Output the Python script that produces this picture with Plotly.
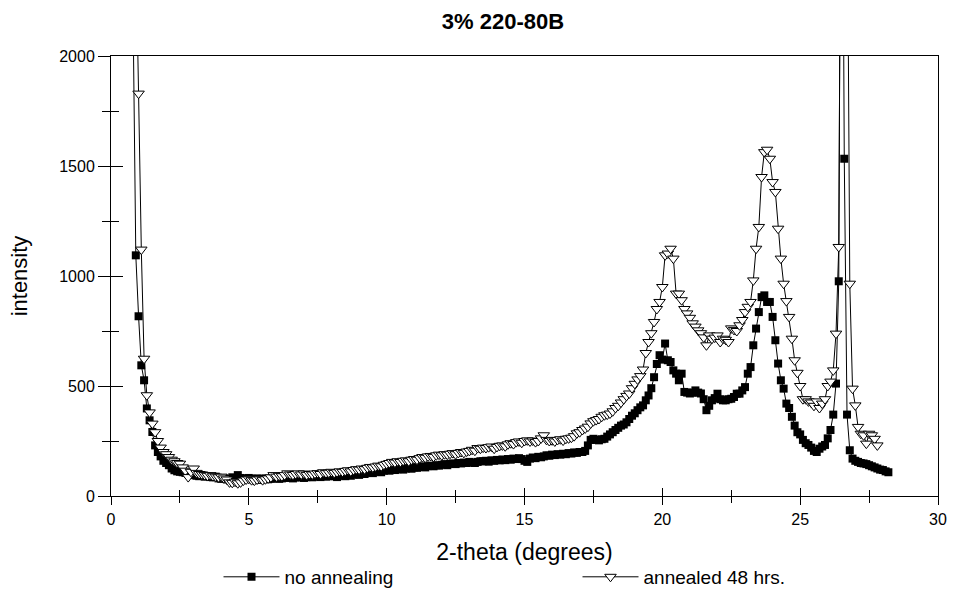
import plotly.graph_objects as go

title_text = "3% 220-80B"
x_title = "2-theta (degrees)"
y_title = "intensity"
series_names = ["no annealing", "annealed 48 hrs."]

x_start = 0.8
x_step = 0.1

# no annealing (filled squares), 2-theta from 0.8 to 28.2 in 0.1 steps
y_no = [
    2200, 1094,
    817, 594, 526, 398, 344, 291, 230, 200, 180, 160,
    150, 140, 125, 117, 112, 110, 108, 105, 100, 95,
    97, 92, 90, 92, 88, 90, 86, 85, 88, 80,
    78, 80, 76, 78, 85, 80, 95, 82, 76, 80,
    82, 78, 75, 80, 73, 78, 80, 76, 78, 80,
    82, 78, 80, 84, 82, 86, 80, 84, 88, 85,
    82, 86, 90, 85, 88, 90, 86, 92, 88, 90,
    94, 90, 86, 92, 95, 90, 96, 92, 98, 100,
    96, 102, 100, 105, 108, 104, 110, 112, 108, 115,
    118, 115, 120, 118, 122, 125, 120, 125, 128, 124,
    130, 128, 132, 135, 130, 136, 138, 135, 140, 138,
    142, 145, 140, 146, 148, 145, 150, 148, 152, 150,
    155, 152, 150, 155, 158, 158, 160, 156, 162, 160,
    164, 162, 166, 163, 168, 165, 170, 168, 172, 168,
    160, 155, 170, 175, 172, 178, 176, 180, 185, 183,
    188, 186, 190, 188, 192, 190, 195, 193, 198, 196,
    200, 200, 205, 230, 255, 260, 255, 253, 258, 260,
    270, 280, 290, 300, 310, 320, 325, 335, 350, 365,
    376, 390, 403, 412, 435, 457, 490, 540, 600, 640,
    620, 693, 617, 609, 571, 556, 526, 556, 473, 470,
    466, 470, 480, 470, 466, 440, 390, 410, 435, 445,
    465, 440, 435, 435, 440, 442, 450, 465, 465, 480,
    495, 556, 586, 685, 761, 836, 904, 912, 882, 882,
    814, 708, 602, 526, 488, 420, 400, 360, 320, 290,
    280, 255, 240, 232, 220, 205, 200, 215, 225, 232,
    262, 300, 370, 511, 976, 4000, 1533, 370, 208, 170,
    160, 155, 150, 148, 145, 140, 135, 130, 125, 120,
    118, 112, 108,
]

# annealed 48 hrs. (open down-triangles), 2-theta from 0.8 to 27.8 in 0.1 steps
y_ann = [
    3500, 2500,
    1829, 1120, 624, 458, 380, 329, 290, 250, 220, 200,
    190, 177, 165, 158, 150, 147, 130, 115, 86, 110,
    125, 105, 100, 98, 95, 92, 95, 90, 88, 85,
    88, 80, 75, 62, 60, 65, 58, 62, 70, 75,
    78, 72, 70, 75, 78, 72, 76, 80, 85, 95,
    88, 92, 90, 95, 103, 98, 96, 100, 103, 98,
    102, 96, 100, 98, 102, 104, 100, 108, 104, 106,
    110, 105, 108, 112, 110, 114, 117, 112, 118, 122,
    120, 125, 122, 128, 132, 130, 134, 138, 135, 142,
    146, 150, 155, 152, 158, 155, 160, 162, 158, 165,
    168, 165, 172, 177, 174, 180, 182, 178, 185, 188,
    185, 190, 188, 192, 195, 190, 196, 200, 196, 202,
    205, 210, 206, 218, 215, 220, 218, 222, 225, 215,
    223, 228, 230, 226, 235, 240, 236, 245, 248, 242,
    250, 253, 248, 252, 245, 250, 262, 276, 255, 250,
    253, 248, 255, 258, 252, 260, 262, 265, 272, 285,
    290, 300, 307, 315, 330, 340, 345, 350, 360, 367,
    370, 375, 385, 400, 410, 425, 440, 455, 466, 490,
    510, 530, 545, 575, 650, 700, 740, 791, 850, 882,
    950, 1094, 1102, 1124, 1079, 920, 920, 890, 850, 830,
    810, 785, 770, 753, 740, 721, 685, 730, 715, 720,
    730, 700, 715, 710, 700, 762, 755, 750, 776, 800,
    836, 860, 882, 980, 1124, 1223, 1450, 1563, 1574, 1533,
    1427, 1382, 1215, 1079, 965, 886, 814, 715, 617, 560,
    500, 440, 440, 430, 425, 410, 430, 400, 420, 440,
    500, 520, 571, 738, 1132, 5000, 6000, 3000, 965, 488,
    412, 314, 283, 276, 238, 283, 276, 260, 230,
]

x_no = [round(x_start + x_step * i, 2) for i in range(len(y_no))]
x_ann = [round(x_start + x_step * i, 2) for i in range(len(y_ann))]

x_ticks = [0, 5, 10, 15, 20, 25, 30]
y_ticks = [0, 500, 1000, 1500, 2000]

FONT = "Liberation Sans, Arial, sans-serif"

fig = go.Figure()
fig.add_trace(go.Scatter(
    x=x_no, y=y_no, mode="lines+markers", name=series_names[0],
    line=dict(color="black", width=1),
    marker=dict(symbol="square", size=8, color="black", line=dict(width=0)),
))
fig.add_trace(go.Scatter(
    x=x_ann, y=y_ann, mode="lines+markers", name=series_names[1],
    line=dict(color="black", width=1),
    marker=dict(symbol="triangle-down", size=10, color="white",
                line=dict(color="black", width=1)),
))
# helper trace on overlaid axes so the inner tick marks are drawn
fig.add_trace(go.Scatter(
    x=x_no, y=y_no, xaxis="x2", yaxis="y2", mode="lines",
    line=dict(color="rgba(0,0,0,0)", width=0), showlegend=False, hoverinfo="skip",
))

axis_common = dict(showgrid=False, zeroline=False, linecolor="black", linewidth=1,
                   tickcolor="black", tickwidth=1)

fig.update_layout(
    width=953, height=601,
    margin=dict(l=111, r=15, t=56, b=105, autoexpand=False),
    paper_bgcolor="white", plot_bgcolor="white",
    font=dict(family=FONT, color="black", size=16),
    title=dict(text="<b>" + title_text + "</b>", x=503 / 953, xref="container", xanchor="center",
               y=1 - 21 / 601, yref="container", yanchor="middle",
               font=dict(size=22, family=FONT)),
    xaxis=dict(range=[0, 30], tickmode="array", tickvals=x_ticks, ticks="outside", ticklen=8,
               minor=dict(ticks="outside", ticklen=6, dtick=2.5, tick0=0, tickcolor="black"),
               showline=True, mirror=True, tickfont=dict(size=16), ticklabelstandoff=1,
               title=dict(text=x_title, font=dict(size=23), standoff=16), **axis_common),
    yaxis=dict(range=[0, 2000], tickmode="array", tickvals=y_ticks, ticks="outside", ticklen=12,
               minor=dict(ticks="outside", ticklen=8, dtick=250, tick0=0, tickcolor="black"),
               showline=True, mirror=True, tickfont=dict(size=16),
               title=dict(text=y_title, font=dict(size=22), standoff=25), **axis_common),
    xaxis2=dict(range=[0, 30], overlaying="x", anchor="y", side="bottom", tickmode="array",
                tickvals=x_ticks, ticks="inside", ticklen=8, showticklabels=False,
                minor=dict(ticks="inside", ticklen=6, dtick=2.5, tick0=0, tickcolor="black"),
                showline=False, **axis_common),
    yaxis2=dict(range=[0, 2000], overlaying="y", anchor="x", side="left", tickmode="array",
                tickvals=y_ticks, ticks="inside", ticklen=12, showticklabels=False,
                minor=dict(ticks="inside", ticklen=8, dtick=250, tick0=0, tickcolor="black"),
                showline=False, **axis_common),
    legend=dict(orientation="h", x=0.13, xanchor="left", y=-0.184, yanchor="middle",
                font=dict(size=19), itemwidth=56, entrywidth=288, entrywidthmode="pixels",
                bgcolor="rgba(0,0,0,0)"),
    showlegend=True,
)

fig.write_html("out.html")
